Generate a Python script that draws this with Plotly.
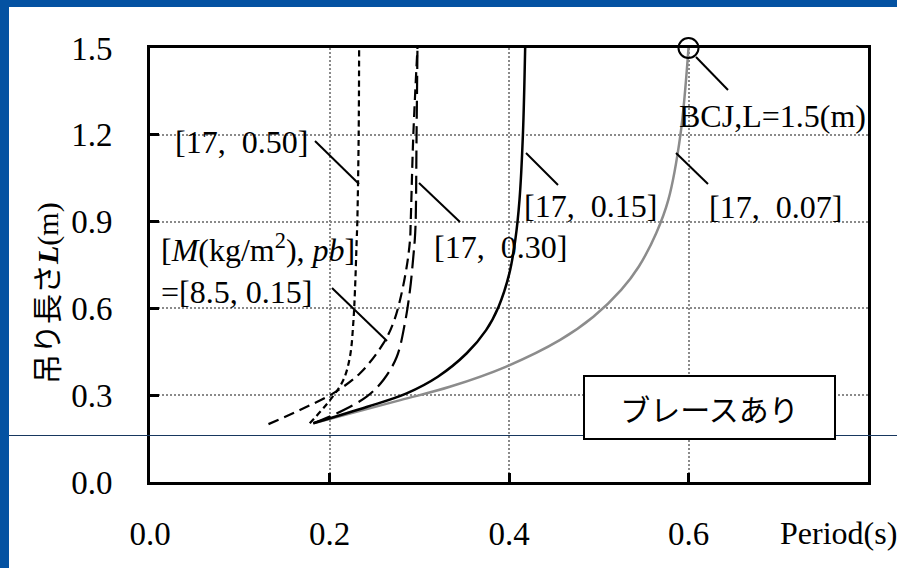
import plotly.graph_objects as go

# ---------------- data ----------------
x_tick_vals = [0.0, 0.2, 0.4, 0.6]
x_tick_text = ["0.0", "0.2", "0.4", "0.6"]
y_tick_vals = [0.0, 0.3, 0.6, 0.9, 1.2, 1.5]
y_tick_text = ["0.0", "0.3", "0.6", "0.9", "1.2", "1.5"]

# [17, 0.07]  (gray solid)
p_17_007 = [0.182, 0.279, 0.334, 0.397, 0.457, 0.494, 0.525, 0.5445, 0.564, 0.5775, 0.591, 0.600]
l_17_007 = [0.203, 0.283, 0.329, 0.399, 0.491, 0.571, 0.664, 0.744, 0.860, 0.975, 1.200, 1.500]
# [17, 0.15]  (black solid)
p_17_015 = [0.182, 0.2422, 0.2859, 0.3207, 0.3529, 0.3745, 0.3884, 0.4004, 0.4070, 0.4117, 0.4155, 0.418]
l_17_015 = [0.203, 0.260, 0.3065, 0.364, 0.445, 0.525, 0.606, 0.721, 0.836, 0.975, 1.200, 1.500]
# [17, 0.30]  (long dash)
p_17_030 = [0.182, 0.208, 0.2414, 0.260, 0.275, 0.284, 0.2897, 0.2934, 0.295, 0.296, 0.297, 0.298]
l_17_030 = [0.203, 0.237, 0.295, 0.3525, 0.433, 0.549, 0.664, 0.779, 0.836, 0.900, 1.200, 1.500]
# [8.5, 0.15] (medium dash)
p_85_015 = [0.132, 0.167, 0.204, 0.234, 0.260, 0.271, 0.2786, 0.286, 0.2897, 0.2905, 0.2934, 0.298]
l_85_015 = [0.200, 0.249, 0.3065, 0.376, 0.479, 0.549, 0.629, 0.744, 0.836, 0.900, 1.200, 1.500]
# [17, 0.50]  (short dash)
p_17_050 = [0.178, 0.2006, 0.2154, 0.2228, 0.2265, 0.2284, 0.2303, 0.231, 0.2325, 0.233]
l_17_050 = [0.203, 0.283, 0.3525, 0.433, 0.549, 0.664, 0.836, 0.900, 1.200, 1.500]
# BCJ point
bcj_p = [0.6]
bcj_l = [1.5]

# ---------------- layout geometry ----------------
W, H = 897, 568
L_PX, R_PX, T_PX, B_PX = 150, 868, 48, 482
PW, PH = R_PX - L_PX, B_PX - T_PX


def px(X, Y):
    return (X - L_PX) / PW, (B_PX - Y) / PH


SERIF = "Liberation Serif, Times New Roman, Noto Sans CJK JP, serif"
CJK = "Noto Sans CJK JP, sans-serif"
FS = 32
TICK_FS = 33

fig = go.Figure()

fig.add_trace(go.Scatter(x=p_17_007, y=l_17_007, mode="lines", line=dict(color="#8c8c8c", width=2.5, shape="spline", smoothing=1.0), hoverinfo="skip"))
fig.add_trace(go.Scatter(x=p_17_015, y=l_17_015, mode="lines", line=dict(color="black", width=2.5, shape="spline", smoothing=1.0), hoverinfo="skip"))
fig.add_trace(go.Scatter(x=p_17_030, y=l_17_030, mode="lines", line=dict(color="black", width=2.2, dash="18px,7px", shape="spline", smoothing=1.0), hoverinfo="skip"))
fig.add_trace(go.Scatter(x=p_85_015, y=l_85_015, mode="lines", line=dict(color="black", width=2.2, dash="11px,6px", shape="spline", smoothing=1.0), hoverinfo="skip"))
fig.add_trace(go.Scatter(x=p_17_050, y=l_17_050, mode="lines", line=dict(color="black", width=2.2, dash="6px,4px", shape="spline", smoothing=1.0), hoverinfo="skip"))
fig.add_trace(go.Scatter(x=bcj_p, y=bcj_l, mode="markers", cliponaxis=False,
                         marker=dict(symbol="circle-open", size=20, color="black", line=dict(width=2)), hoverinfo="skip"))

shapes = []
# white slide area over blue background
x0, y1 = px(9, 7)
x1, y0 = px(W, H)
shapes.append(dict(type="rect", xref="paper", yref="paper", x0=x0, x1=x1, y0=y0, y1=y1,
                   fillcolor="white", line=dict(width=0), layer="below"))
# thin horizontal slide line
hx0, hy = px(9, 435.5)
hx1, _ = px(W, 435.5)
shapes.append(dict(type="line", xref="paper", yref="paper", x0=hx0, x1=hx1, y0=hy, y1=hy,
                   line=dict(color="#17375e", width=1)))
# leader lines (pixel endpoints)
leaders = [((315, 141), (359, 184)),
           ((332, 288), (387, 341)),
           ((419, 183), (460, 222)),
           ((526, 153), (558, 185)),
           ((676, 153), (708, 184)),
           ((696, 57), (728, 90))]
for (a, b) in leaders:
    ax_, ay_ = px(*a)
    bx_, by_ = px(*b)
    shapes.append(dict(type="line", xref="paper", yref="paper", x0=ax_, y0=ay_, x1=bx_, y1=by_,
                       line=dict(color="black", width=2)))

annotations = []


def label(text, X, Y, xanchor="center", yanchor="middle", align="center", font=SERIF, size=FS, **kw):
    x, y = px(X, Y)
    annotations.append(dict(text=text, x=x, y=y, xref="paper", yref="paper", showarrow=False,
                            xanchor=xanchor, yanchor=yanchor, align=align,
                            font=dict(family=font, size=size, color="black"), **kw))


label("[17,\u00a0 0.50]", 241, 142)
label("[<i>M</i>(kg/m<sup>2</sup>), <i>pb</i>]<br>=[8.5, 0.15]", 159, 269, xanchor="left", align="left")
label("[17,\u00a0 0.30]", 500, 247)
label("[17,\u00a0 0.15]", 590, 206)
label("[17,\u00a0 0.07]", 775, 207)
label("BCJ,L=1.5(m)", 772, 116)
label("Period(s)", 838, 533)
label("吊り長さ<b><i>L</i></b>(m)", 48, 293, textangle=-90, size=30)
# boxed note
bx, by = px(709.5, 407.5)
annotations.append(dict(text="ブレースあり", x=bx, y=by, xref="paper", yref="paper", showarrow=False,
                        xanchor="center", yanchor="middle", width=249, height=61,
                        bgcolor="white", bordercolor="black", borderwidth=2, borderpad=0,
                        font=dict(family=CJK, size=30, color="black")))

fig.update_layout(
    width=W, height=H,
    margin=dict(l=L_PX, r=W - R_PX, t=T_PX, b=H - B_PX, autoexpand=False),
    paper_bgcolor="#0452a2", plot_bgcolor="white",
    showlegend=False,
    shapes=shapes, annotations=annotations,
    font=dict(family=SERIF, size=FS, color="black"),
)
fig.update_xaxes(range=[0, 0.8], tickvals=x_tick_vals, ticktext=x_tick_text,
                 showline=True, linecolor="black", linewidth=3, mirror=True,
                 ticks="inside", ticklen=9, tickwidth=2.5, tickcolor="black",
                 showgrid=True, gridcolor="#8a8a8a", gridwidth=2, griddash="2px,2px",
                 zeroline=False, ticklabelstandoff=20,
                 tickfont=dict(family=SERIF, size=TICK_FS, color="black"))
fig.update_yaxes(range=[0, 1.5], tickvals=y_tick_vals, ticktext=y_tick_text,
                 showline=True, linecolor="black", linewidth=3, mirror=True,
                 ticks="inside", ticklen=9, tickwidth=2.5, tickcolor="black",
                 showgrid=True, gridcolor="#8a8a8a", gridwidth=2, griddash="2px,2px",
                 zeroline=False, ticklabelstandoff=28,
                 tickfont=dict(family=SERIF, size=TICK_FS, color="black"))

fig.write_html("out.html", config={"displayModeBar": False},
               post_script="document.body.style.margin='0';document.body.style.overflow='hidden';")
